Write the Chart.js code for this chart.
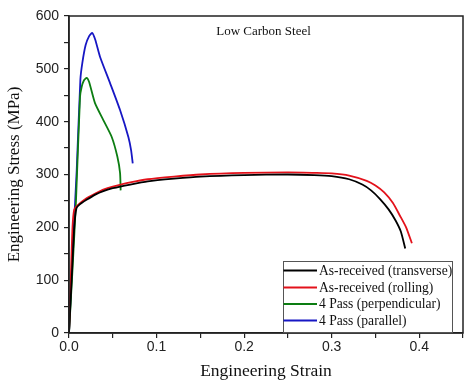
<!DOCTYPE html>
<html>
<head>
<meta charset="utf-8">
<script src="https://cdn.jsdelivr.net/npm/chart.js@4/dist/chart.umd.min.js"></script>
<style>
html,body{margin:0;padding:0;background:#fff;}
#wrap{width:474px;height:385px;}
</style>
</head>
<body>
<div id="wrap"><canvas id="c" width="474" height="385"></canvas></div>
<script>
// ---- data ----
const seriesLabels = ['As-received (transverse)', 'As-received (rolling)', '4 Pass (perpendicular)', '4 Pass (parallel)'];
const seriesColors = ['#000000', '#e3121b', '#0c7d12', '#1717c4'];

const transverseStrain = [0, 0.003, 0.006, 0.0085, 0.012, 0.02, 0.03, 0.04, 0.05, 0.07, 0.09, 0.12, 0.15, 0.2, 0.25, 0.28, 0.30, 0.32, 0.335, 0.345, 0.355, 0.365, 0.373, 0.379, 0.384];
const transverseStress = [0, 100, 200, 236, 243, 252, 262, 269, 274, 281, 287, 292, 296, 299, 300, 299, 297, 291, 281, 270, 254, 234, 213, 192, 160];

const rollingStrain = [0, 0.002, 0.004, 0.006, 0.01, 0.02, 0.03, 0.04, 0.05, 0.07, 0.09, 0.12, 0.15, 0.2, 0.25, 0.28, 0.30, 0.32, 0.34, 0.35, 0.36, 0.37, 0.378, 0.385, 0.3916];
const rollingStress = [0, 100, 200, 234, 242, 255, 264, 272, 277, 285, 291, 296, 300, 303, 304, 303, 302, 298, 288, 279, 266, 246, 222, 200, 170];

const perpStrain = [0, 0.004, 0.008, 0.0126, 0.0145, 0.017, 0.0202, 0.023, 0.0297, 0.0392, 0.0488, 0.0552, 0.0583, 0.059];
const perpStress = [0, 120, 251, 447, 466, 478, 483, 475, 435, 403, 371, 334, 303, 270];

const paraStrain = [0, 0.004, 0.0088, 0.013, 0.0152, 0.019, 0.023, 0.0266, 0.03, 0.0354, 0.0469, 0.0583, 0.0678, 0.0709, 0.0728];
const paraStress = [0, 150, 308, 480, 511, 545, 562, 568, 555, 523, 473, 422, 371, 346, 321];

const xTickStep = 0.05, xMax = 0.45;
const yTickStep = 50, yMax = 600;
const noteText = 'Low Carbon Steel';
const xTitle = 'Engineering Strain';
const yTitle = 'Engineering Stress (MPa)';

function pts(xs, ys){ return xs.map((x,i)=>({x:x, y:ys[i]})); }
const allX = [transverseStrain, rollingStrain, perpStrain, paraStrain];
const allY = [transverseStress, rollingStress, perpStress, paraStress];

const datasets = seriesLabels.map((lab,i)=>({
  label: lab,
  data: pts(allX[i], allY[i]),
  borderColor: seriesColors[i],
  backgroundColor: seriesColors[i],
  borderWidth: 1.8,
  pointRadius: 0,
  showLine: true,
  fill: false,
  tension: 0.2
}));

const serif = '"Liberation Serif", "Times New Roman", serif';
const sans = '"Liberation Sans", Arial, sans-serif';

const framePlugin = {
  id: 'frame',
  afterDraw(chart){
    const {ctx, chartArea:a} = chart;
    ctx.save();
    ctx.strokeStyle = '#222';
    ctx.lineWidth = 1.5;
    ctx.strokeRect(a.left, a.top, a.right - a.left, a.bottom - a.top);
    // note text
    ctx.fillStyle = '#111';
    ctx.font = '13px ' + serif;
    ctx.textAlign = 'center';
    ctx.textBaseline = 'alphabetic';
    ctx.fillText(noteText, 263.5, 35);
    // legend
    const bx = 283.5, by = 261.5, bw = 169, bh = 71;
    ctx.fillStyle = '#fff';
    ctx.fillRect(bx, by, bw, bh);
    ctx.strokeStyle = '#555';
    ctx.lineWidth = 1;
    ctx.strokeRect(bx, by, bw, bh);
    ctx.font = '13.6px ' + serif;
    ctx.textAlign = 'left';
    ctx.textBaseline = 'middle';
    const rows = [270.5, 287.5, 304, 320.5];
    chart.data.datasets.forEach((ds,i)=>{
      ctx.strokeStyle = ds.borderColor;
      ctx.lineWidth = 1.8;
      ctx.beginPath();
      ctx.moveTo(bx, rows[i]);
      ctx.lineTo(317, rows[i]);
      ctx.stroke();
      ctx.fillStyle = '#111';
      ctx.fillText(ds.label, 319, rows[i] + 0.5);
    });
    ctx.restore();
  }
};

new Chart(document.getElementById('c'), {
  type: 'scatter',
  data: { datasets },
  options: {
    responsive: false,
    animation: false,
    devicePixelRatio: 1,
    layout: { padding: { left: 0, right: 11, top: 16, bottom: 0 } },
    plugins: { legend: { display: false }, tooltip: { enabled: false } },
    scales: {
      x: {
        type: 'linear',
        min: 0, max: xMax,
        afterFit(s){ s.height = 52; },
        border: { display: true, color: '#222', width: 1.5 },
        grid: { display: true, drawOnChartArea: false, drawTicks: true, tickLength: 5, color: '#222', lineWidth: 1.2 },
        ticks: {
          stepSize: xTickStep, autoSkip: false, maxRotation: 0, padding: 1,
          color: '#222', font: { family: sans, size: 14 },
          callback(v){ const k = v*10; return Math.abs(k - Math.round(k)) < 1e-6 ? v.toFixed(1) : ''; }
        },
        title: { display: true, text: xTitle, color: '#111', font: { family: serif, size: 17.5 }, padding: { top: 0, bottom: 3 } }
      },
      y: {
        type: 'linear',
        min: 0, max: yMax,
        afterFit(s){ s.width = 69; },
        border: { display: true, color: '#222', width: 1.5 },
        grid: { display: true, drawOnChartArea: false, drawTicks: true, tickLength: 5, color: '#222', lineWidth: 1.2 },
        ticks: {
          stepSize: yTickStep, autoSkip: false, padding: 5,
          color: '#222', font: { family: sans, size: 14 },
          callback(v){ return v % 100 === 0 ? String(v) : ''; }
        },
        title: { display: true, text: yTitle, color: '#111', font: { family: serif, size: 17 }, padding: { top: 4, bottom: 0 } }
      }
    }
  },
  plugins: [framePlugin]
});
</script>
</body>
</html>
